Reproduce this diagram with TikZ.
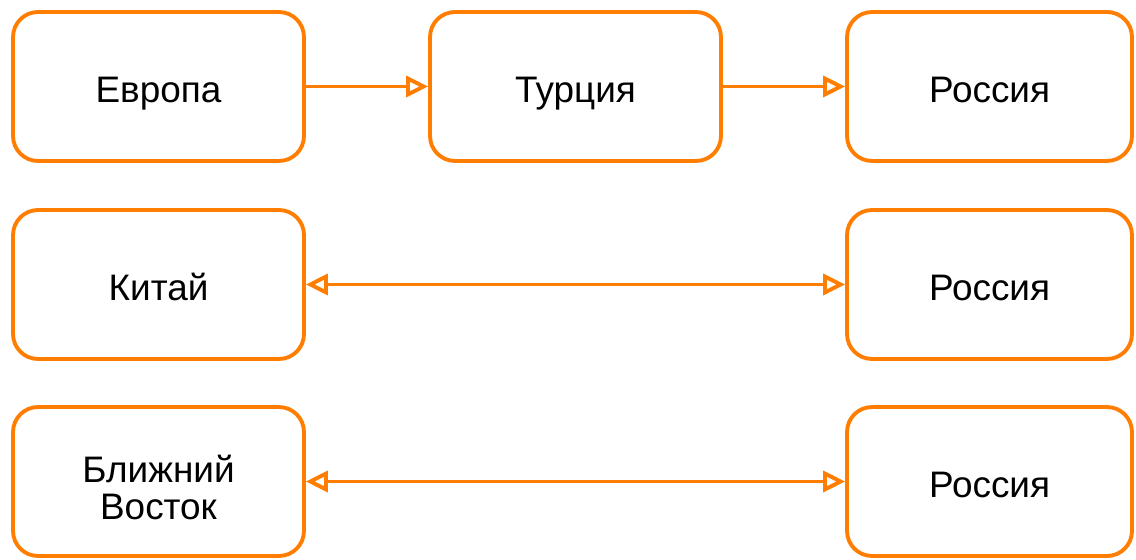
\documentclass[tikz,border=0pt]{standalone}
\usepackage{fontspec}
\setmainfont{Liberation Sans}
\usetikzlibrary{arrows.meta}
\definecolor{routeorange}{RGB}{255,125,0}
\tikzset{
  region/.style={draw=routeorange, line width=2.2pt, rounded corners=0.5cm,
    minimum width=5.82cm, minimum height=2.98cm, align=center,
    font=\fontsize{21}{19}\selectfont, inner sep=0pt,
    text height=0.63cm, text depth=0pt},
  russia/.style={region, minimum width=5.7cm},
  opentip/.tip={Triangle[open, length=0.44cm, width=0.42cm, line width=2.2pt]},
  route/.style={draw=routeorange, line width=2.2pt, -opentip},
  tworoute/.style={route, opentip-opentip}
}
\begin{document}
\begin{tikzpicture}[x=0.02cm, y=-0.02cm]
  \useasboundingbox (0,0) rectangle (1136,560);
  % top row
  \node[region] (europe) at (158.5,86.5) {Европа};
  \node[region] (turkey) at (575.5,86.5) {Турция};
  \node[russia] (russiaA) at (989.5,86.5) {Россия};
  % middle row
  \node[region] (china) at (158.5,284.5) {Китай};
  \node[russia] (russiaB) at (989.5,284.5) {Россия};
  % bottom row
  \node[region, text height={}, text depth={}] (east) at (158.5,481.5)
    {\rule{0pt}{0.8cm}Ближний\\[2pt]Восток};
  \node[russia] (russiaC) at (989.5,481.5) {Россия};
  % routes
  \draw[route] (europe) -- (turkey);
  \draw[route] (turkey) -- (russiaA);
  \draw[tworoute] (china) -- (russiaB);
  \draw[tworoute] (east) -- (russiaC);
\end{tikzpicture}
\end{document}
